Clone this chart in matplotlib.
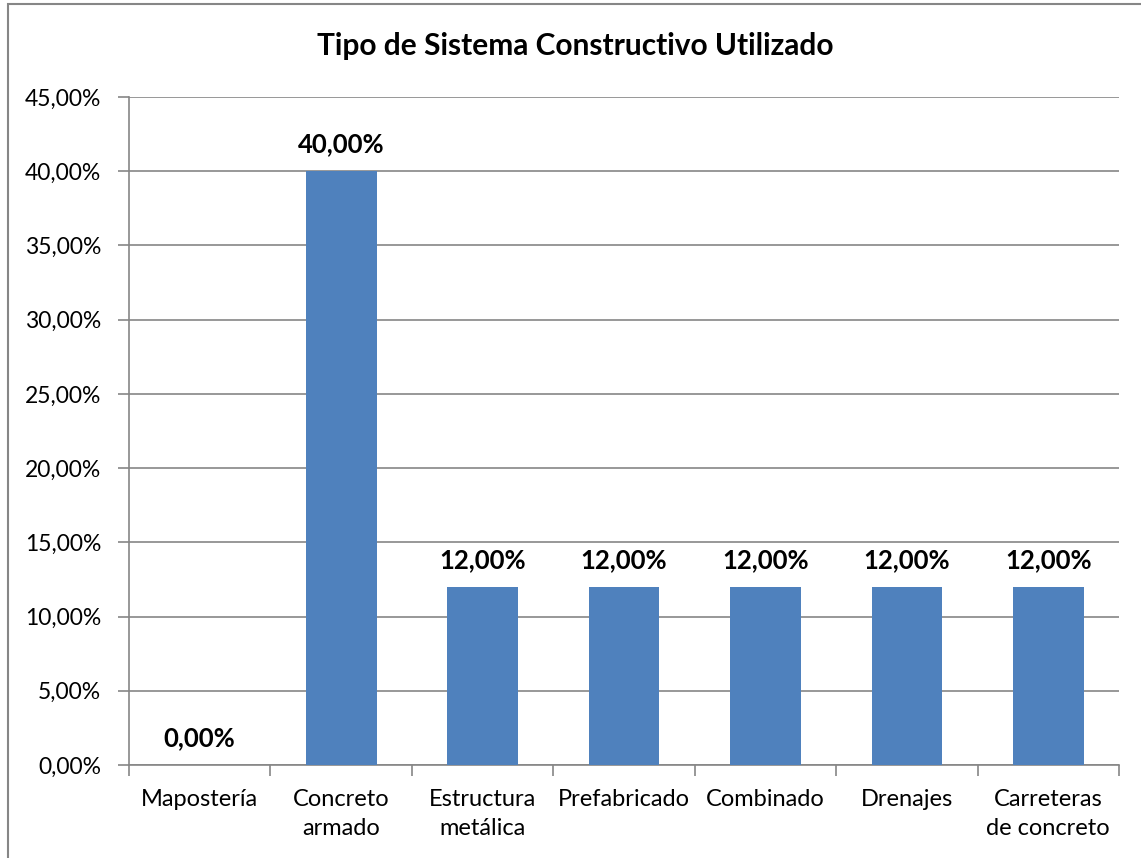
import matplotlib.pyplot as plt
import numpy as np
from matplotlib.patches import Rectangle

categories = ['Mapostería', 'Concreto\narmado', 'Estructura\nmetálica', 'Prefabricado',
              'Combinado', 'Drenajes', 'Carreteras\nde concreto']
values = [0.0, 40.0, 12.0, 12.0, 12.0, 12.0, 12.0]
yticks = np.arange(0, 46, 5)

plt.rcParams['font.family'] = ['Lato', 'DejaVu Sans']

fig = plt.figure(figsize=(11.41, 8.58), dpi=100)
ax = fig.add_axes([129/1141, 1 - 765/858, (1119-129)/1141, (765-97)/858])

grid_c = '#868686'
x = np.arange(len(categories))
ax.bar(x, values, width=0.5, color='#4F81BD', zorder=3)

ax.set_xlim(-0.5, len(categories) - 0.5)
ax.set_ylim(0, 45)
ax.set_yticks(yticks)
ax.set_yticklabels([f'{v:.2f}%'.replace('.', ',') for v in yticks], fontsize=16.5)
ax.yaxis.grid(True, color=grid_c, linewidth=1.2, zorder=0)
ax.tick_params(axis='y', length=8, width=1.2, color=grid_c, pad=12)

# category labels centred, tick marks at category boundaries
ax.set_xticks(np.arange(-0.5, len(categories)), minor=False)
ax.set_xticklabels([])
ax.set_xticks(x, minor=True)
ax.set_xticklabels(categories, minor=True, fontsize=17, linespacing=1.5)
ax.tick_params(axis='x', which='major', length=8, width=1.2, color=grid_c)
ax.tick_params(axis='x', which='minor', length=0, pad=17)

for s in ['top', 'right']:
    ax.spines[s].set_visible(False)
for s in ['left', 'bottom']:
    ax.spines[s].set_color(grid_c)
    ax.spines[s].set_linewidth(1.2)

for xi, v in zip(x, values):
    ax.text(xi, v + 1.0, f'{v:.2f}%'.replace('.', ','), ha='center', va='bottom',
            fontsize=18.5, fontweight='bold', color='black')

fig.text(575/1141, 1 - 46/858, 'Tipo de Sistema Constructivo Utilizado', ha='center',
         va='center', fontsize=21.5, fontweight='bold')

# outer chart border (right/bottom edges cropped off in original)
fig.patches.append(Rectangle((8/1141, -0.1), 1.2, 1 - 4/858 + 0.1, transform=fig.transFigure,
                             fill=False, edgecolor=grid_c, linewidth=1.5))

fig.savefig('out.png', dpi=100)
